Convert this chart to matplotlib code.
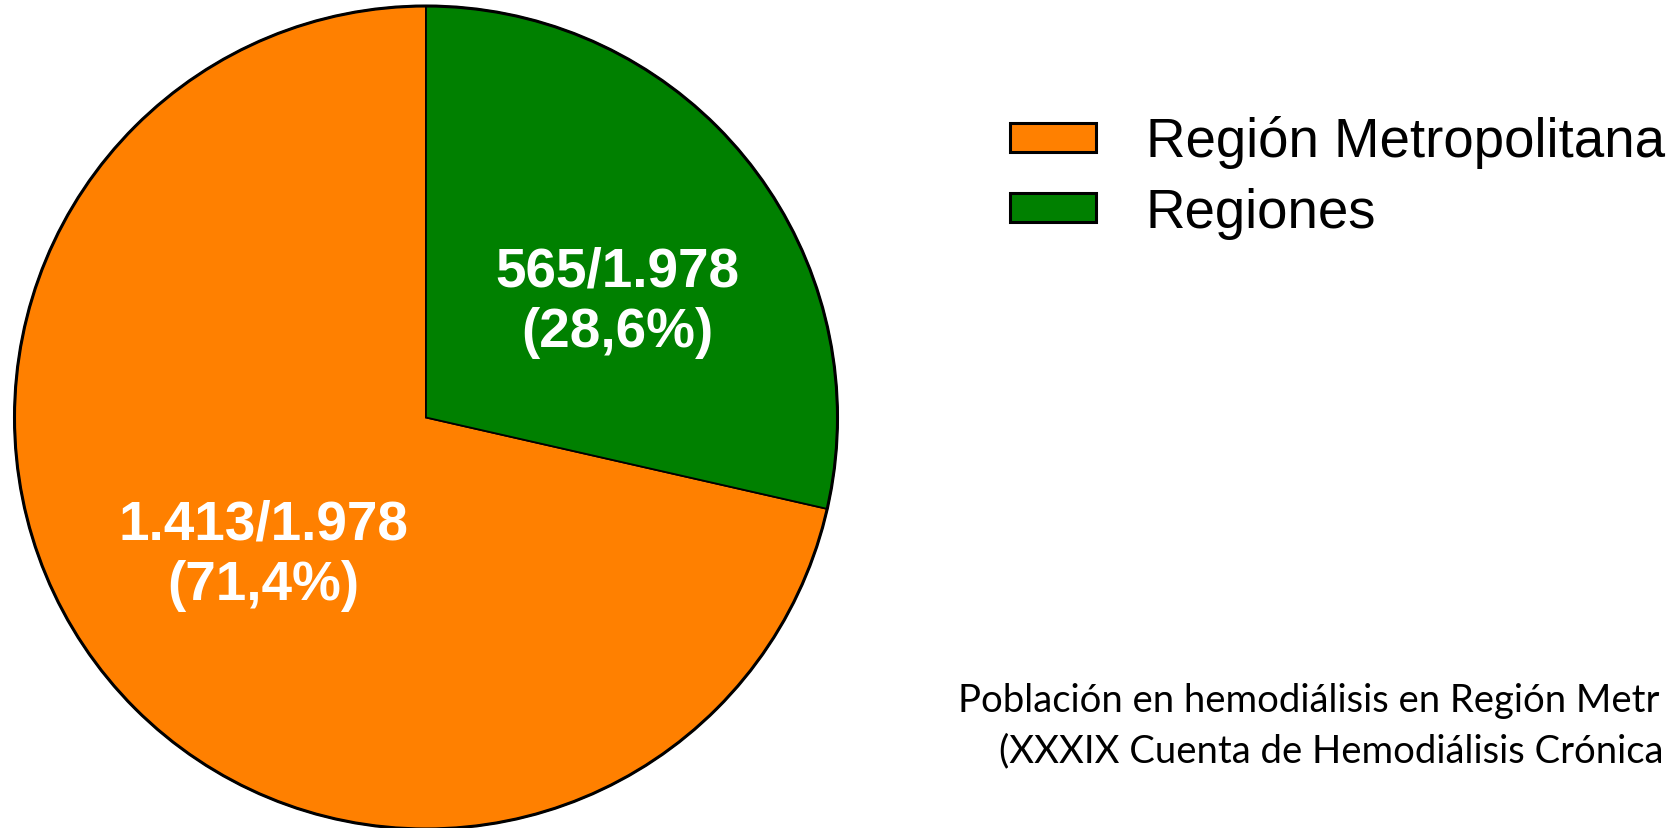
import matplotlib.pyplot as plt
from matplotlib.patches import Rectangle, Circle

# data
labels = ['Región Metropolitana', 'Regiones']
counts = [1413, 565]
total = 1978
slice_text = ['1.413/1.978\n(71,4%)', '565/1.978\n(28,6%)']
colors = ['#FF8000', '#008000']
note_lines = ['Población en hemodiálisis en Región Metr',
              '(XXXIX Cuenta de Hemodiálisis Crónica']

W, H = 1678, 829
fig = plt.figure(figsize=(W / 100, H / 100), dpi=100)

# pie: centre (426, 418.5) px, radius 411.5 px
cx, cy, r = 426, 418.5, 411.5
ax = fig.add_axes([(cx - r) / W, (H - cy - r) / H, 2 * r / W, 2 * r / H])
wedges, _ = ax.pie(counts, colors=colors, startangle=90,
                   wedgeprops=dict(edgecolor='black', linewidth=1.3))
ax.set_xlim(-1, 1)
ax.set_ylim(-1, 1)
ax.add_patch(Circle((0, 0), 1, fill=False, edgecolor='black', linewidth=2.2, clip_on=False))

# slice labels (placed by hand, like the original)
label_pos = [(-0.396, -0.334), (0.464, 0.281)]
for (x, y), txt in zip(label_pos, slice_text):
    ax.text(x, y, txt, ha='center', va='center', color='white', fontsize=39.5,
            fontweight='bold', family='Liberation Sans', linespacing=1.2)

# legend drawn by hand
for i, (lab, col) in enumerate(zip(labels, colors)):
    top = 124 + i * 70
    fig.patches.append(Rectangle((1010 / W, 1 - (top + 29) / H), 86 / W, 29 / H,
                                 facecolor=col, edgecolor='black', linewidth=2.2,
                                 transform=fig.transFigure, figure=fig))
    fig.text(1146 / W, 1 - (157 + i * 71) / H, lab, fontsize=39.3,
             family='Liberation Sans', va='baseline', ha='left')

# source note, cut off at the right edge as in the original
note_x = [958, 999]
note_base = [712, 762]
for x, y, line in zip(note_x, note_base, note_lines):
    fig.text(x / W, 1 - y / H, line, fontsize=27.5, family='Lato',
             va='baseline', ha='left')

fig.savefig('out.png', dpi=100, facecolor='white')
